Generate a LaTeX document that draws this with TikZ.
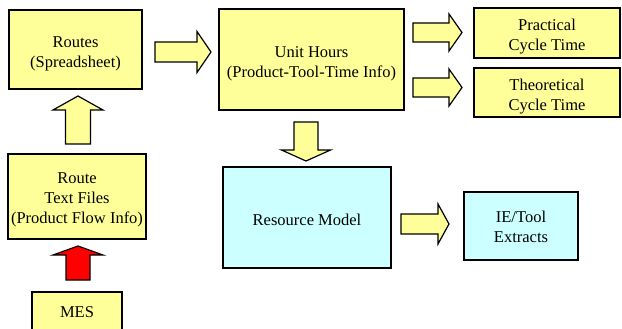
\documentclass[tikz,border=0pt]{standalone}
\usepackage{fontspec}
\setmainfont{Liberation Serif}
\definecolor{boxyellow}{RGB}{255,255,153}
\definecolor{boxcyan}{RGB}{204,255,255}
\definecolor{flowred}{RGB}{255,0,0}
\tikzset{
  box/.style={draw=black, line width=1.2pt, inner sep=0pt},
  ybox/.style={box, fill=boxyellow},
  cbox/.style={box, fill=boxcyan},
  boxtext/.style={align=center, inner sep=0pt, font=\rmfamily\fontsize{16.5}{20}\selectfont},
  % block arrow along +x: length / shaft half-width / head half-width / head length
  pics/barrow/.style args={#1/#2/#3/#4}{code={
    \path[draw=black, line width=1.2pt, line join=miter, pic actions]
      (0,-#2) -- ({#1-#4},-#2) -- ({#1-#4},-#3) -- (#1,0)
      -- ({#1-#4},#3) -- ({#1-#4},#2) -- (0,#2) -- cycle;
  }},
}
\begin{document}
\begin{tikzpicture}[x=1pt,y=-1pt]
\useasboundingbox (0,0) rectangle (622,329);
\clip (0,0) rectangle (622,329);

% boxes
\node[ybox, minimum width=133pt, minimum height=79pt] (routes) at (75.5,49.5) {};
\node[ybox, minimum width=185pt, minimum height=101pt] (unit) at (311.5,59.5) {};
\node[ybox, minimum width=146pt, minimum height=50pt] (prac) at (547,33) {};
\node[ybox, minimum width=146pt, minimum height=49pt] (theo) at (547,92.5) {};
\node[ybox, minimum width=138pt, minimum height=85pt] (rtf) at (77,196.5) {};
\node[cbox, minimum width=168pt, minimum height=101pt] (res) at (307,217.5) {};
\node[cbox, minimum width=114pt, minimum height=68pt] (ie) at (521,226) {};
\node[ybox, minimum width=90pt, minimum height=40pt] (mes) at (77,312) {};

% box texts
\node[boxtext] (routes-t) at ([yshift=-4.5pt]routes.center) {Routes\\(Spreadsheet)};
\node[boxtext] (unit-t) at ([yshift=-4pt]unit.center) {Unit Hours\\(Product-Tool-Time Info)};
\node[boxtext] (prac-t) at ([yshift=-4pt]prac.center) {Practical\\Cycle Time};
\node[boxtext] (theo-t) at ([yshift=-4pt]theo.center) {Theoretical\\Cycle Time};
\node[boxtext] (rtf-t) at ([yshift=-3pt]rtf.center) {Route\\Text Files\\(Product Flow Info)};
\node[boxtext] (res-t) at ([yshift=-2pt]res.center) {Resource Model};
\node[boxtext] (ie-t) at ([yshift=-1pt]ie.center) {IE/Tool\\Extracts};
\node[boxtext] (mes-t) at (mes.center) {MES};

% block arrows
\pic[fill=boxyellow] at (155,52) {barrow={56/10/20.5/14}};
\pic[fill=boxyellow, rotate=90] at (78,144) {barrow={48/12.5/25/14}};
\pic[fill=boxyellow] at (413,32.5) {barrow={49/9.5/18.5/13}};
\pic[fill=boxyellow] at (413,87.5) {barrow={49/9.5/18.5/13}};
\pic[fill=boxyellow, rotate=-90] at (306,122) {barrow={39/12/24.5/11}};
\pic[fill=boxyellow] at (401,224) {barrow={48/10/20/11}};
\pic[fill=flowred, rotate=90] at (78,280) {barrow={34/12/25/9}};
\end{tikzpicture}
\end{document}
